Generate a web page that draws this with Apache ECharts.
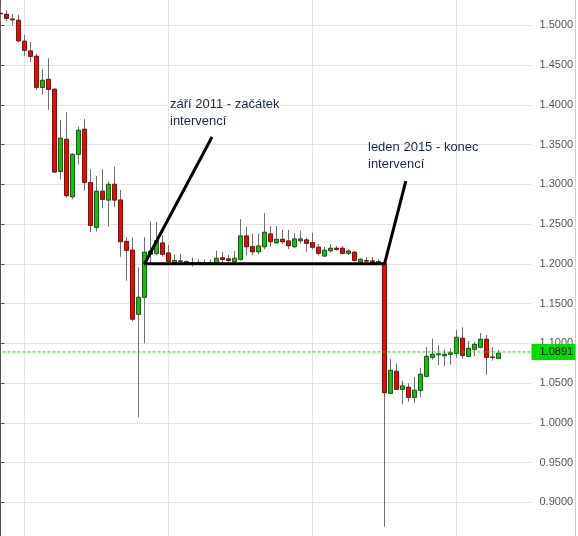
<!DOCTYPE html>
<html><head><meta charset="utf-8">
<script src="https://cdn.jsdelivr.net/npm/echarts@6/dist/echarts.min.js"></script>
<style>html,body{margin:0;padding:0;background:#fff}#c{width:578px;height:536px}</style>
</head><body><div id="c"></div>
<script>
const months = ['2009-09','2009-10','2009-11','2009-12',
'2010-01','2010-02','2010-03','2010-04','2010-05','2010-06','2010-07','2010-08','2010-09','2010-10','2010-11','2010-12',
'2011-01','2011-02','2011-03','2011-04','2011-05','2011-06','2011-07','2011-08','2011-09','2011-10','2011-11','2011-12',
'2012-01','2012-02','2012-03','2012-04','2012-05','2012-06','2012-07','2012-08','2012-09','2012-10','2012-11','2012-12',
'2013-01','2013-02','2013-03','2013-04','2013-05','2013-06','2013-07','2013-08','2013-09','2013-10','2013-11','2013-12',
'2014-01','2014-02','2014-03','2014-04','2014-05','2014-06','2014-07','2014-08','2014-09','2014-10','2014-11','2014-12',
'2015-01','2015-02','2015-03','2015-04','2015-05','2015-06','2015-07','2015-08','2015-09','2015-10','2015-11','2015-12',
'2016-01','2016-02','2016-03','2016-04','2016-05','2016-06','2016-07','2016-08','2016-09','2016-10','2016-11','2016-12',
'2017-01'];

const open = [1.5151,1.5138,1.5078,1.5063,1.4799,1.4677,1.4610,1.4220,1.4320,1.4195,
1.3163,1.3566,1.2844,1.3377,1.3692,1.3020,1.2459,1.2912,1.2802,1.3000,
1.2802,1.2281,1.2172,1.1365,1.1579,1.2121,1.2132,1.2262,1.2136,1.2017,
1.2035,1.2026,1.2012,1.2015,1.2012,1.2010,1.2013,1.2075,1.2062,1.2026,
1.2057,1.2350,1.2215,1.2152,1.2215,1.2375,1.2265,1.2308,1.2287,1.2215,
1.2291,1.2300,1.2266,1.2208,1.2098,1.2165,1.2195,1.2195,1.2132,1.2145,
1.2023,1.2040,1.2036,1.2006,1.2010,1.0371,1.0648,1.0421,1.0447,1.0321,
1.0409,1.0585,1.0824,1.0857,1.0844,1.0862,1.0874,1.1063,1.0836,1.0925,
1.0950,1.1050,1.0826,1.0811];
const close = [1.5145,1.5088,1.5070,1.4806,1.4686,1.4610,1.4220,1.4308,1.4195,1.3155,
1.3579,1.2857,1.3377,1.3679,1.3025,1.2484,1.2912,1.2811,1.3000,1.2802,
1.2278,1.2170,1.1304,1.1579,1.2145,1.2159,1.2290,1.2120,1.2029,1.2042,
1.2030,1.2013,1.2006,1.2010,1.2009,1.2012,1.2069,1.2054,1.2042,1.2069,
1.2350,1.2215,1.2152,1.2224,1.2396,1.2278,1.2308,1.2278,1.2228,1.2312,
1.2312,1.2258,1.2208,1.2132,1.2170,1.2195,1.2182,1.2132,1.2161,1.2044,
1.2057,1.2035,1.2015,1.2027,1.0379,1.0660,1.0421,1.0463,1.0321,1.0409,
1.0610,1.0836,1.0862,1.0866,1.0862,1.0879,1.1075,1.0849,1.0937,1.0987,
1.1050,1.0824,1.0822,1.0874];
const low = [1.5054,1.5058,1.5000,1.4786,1.4618,1.4542,1.4190,1.4127,1.3938,1.3146,
1.3063,1.2836,1.2811,1.3247,1.2920,1.2396,1.2404,1.2698,1.2467,1.2711,
1.2089,1.1787,1.1279,1.0072,1.0999,1.2000,1.2105,1.2090,1.1997,1.1995,
1.1990,1.1995,1.1966,1.1995,1.1998,1.1998,1.1995,1.2008,1.2019,1.2015,
1.2040,1.2107,1.2110,1.2120,1.2182,1.2215,1.2249,1.2249,1.2186,1.2203,
1.2258,1.2152,1.2182,1.2103,1.2086,1.2140,1.2165,1.2119,1.2111,1.2031,
1.2010,1.2010,1.2006,1.1995,0.8693,1.0362,1.0413,1.0233,1.0265,1.0253,
1.0321,1.0572,1.0794,1.0727,1.0714,1.0731,1.0818,1.0806,1.0824,1.0840,
1.0937,1.0605,1.0781,1.0799];
const high = [1.5230,1.5189,1.5142,1.5130,1.4878,1.4790,1.4639,1.4450,1.4585,1.4208,
1.3809,1.3906,1.3390,1.3725,1.3821,1.3192,1.3104,1.3192,1.3033,1.3221,
1.2928,1.2335,1.2335,1.1956,1.2334,1.2533,1.2526,1.2358,1.2236,1.2118,
1.2127,1.2045,1.2078,1.2055,1.2055,1.2055,1.2166,1.2149,1.2111,1.2161,
1.2562,1.2467,1.2379,1.2379,1.2639,1.2475,1.2475,1.2425,1.2425,1.2384,
1.2416,1.2330,1.2392,1.2249,1.2215,1.2249,1.2224,1.2224,1.2182,1.2161,
1.2073,1.2086,1.2086,1.2057,1.2025,1.0803,1.0748,1.0526,1.0497,1.0576,
1.0689,1.0953,1.1058,1.0975,1.0925,1.0937,1.1167,1.1201,1.1029,1.1020,
1.1130,1.1104,1.0953,1.0916];

const currentPrice = 1.0891;
const gridMonths = ['2010-01','2012-01','2014-01','2016-01'];
// annotation polyline in data units: [month index, price]
const annotationPath = [[35.25,1.3595],[24,1.2],[64,1.2],[67.55,1.304]];
// price line spans the whole month range (index units of the hidden value axis)
const priceLine = [[-0.5,currentPrice],[88.5,currentPrice]];
const notes = [
  {text:'září 2011 - začátek\nintervencí', left:170, top:96},
  {text:'leden 2015 - konec\nintervencí', left:368, top:139}
];

const ohlc = open.map((o,i)=>[o, close[i], low[i], high[i]]);
const bodies = open.map((o,i)=>[o, close[i], Math.min(o,close[i]), Math.max(o,close[i])]);

const chart = echarts.init(document.getElementById('c'), null, {renderer:'canvas'});
chart.setOption({
  animation:false,
  backgroundColor:'#fff',
  grid:{left:-2.5, width:534, top:-14.45, height:556.5, containLabel:false, outerBoundsMode:'none'},
  xAxis:[
    {type:'category', data:months, boundaryGap:true, show:false},
    {type:'value', min:-0.5, max:88.5, show:false}
  ],
  yAxis:[
    {type:'value', position:'right', min:0.85, max:1.55, interval:0.05,
     axisLine:{show:true, lineStyle:{color:'#555', width:1}},
     axisTick:{show:true, length:4, lineStyle:{color:'#555'}},
     axisLabel:{color:'#555', fontSize:11, fontFamily:'Liberation Sans, Arial', margin:8,
       showMinLabel:false, showMaxLabel:false, formatter:v=>v.toFixed(4)},
     splitLine:{show:true, lineStyle:{color:'#e3e3e3', width:1}}
    },
    {type:'value', position:'right', offset:44, min:0.85, max:1.55,
     axisLine:{show:true, lineStyle:{color:'#cccccc'}},
     axisTick:{show:false}, axisLabel:{show:false}, splitLine:{show:false}}
  ],
  graphic: notes.map(n=>({type:'text', left:n.left, top:n.top, z:10,
     style:{text:n.text, fill:'#1a2a48', fontSize:13, fontFamily:'Liberation Sans, Arial', lineHeight:17}})),
  series:[
    {type:'candlestick', name:'wicks', data:ohlc, barWidth:4, silent:true, clip:false,
     itemStyle:{color:'transparent', color0:'transparent', borderColor:'#707070', borderColor0:'#707070', borderWidth:1},
     markLine:{silent:true, symbol:'none', z:1, animation:false,
       label:{show:false},
       lineStyle:{color:'#e3e3e3', width:1, type:'solid'},
       data: gridMonths.map(m=>({xAxis:m}))}
    },
    {type:'candlestick', name:'EUR/CHF', data:bodies, barWidth:4, silent:true, clip:false,
     itemStyle:{color:'#00cc00', color0:'#ff0000', borderColor:'#1e5a1e', borderColor0:'#7a1414', borderWidth:1}
    },
    {type:'line', name:'price', xAxisIndex:1, yAxisIndex:0, data:priceLine, z:4,
     symbol:'none', silent:true, clip:false, color:'#00e000',
     lineStyle:{color:'#00e000', width:1, type:[3,2]},
     endLabel:{show:true, distance:0, formatter:()=>currentPrice.toFixed(4),
       backgroundColor:'#00dd00', color:'#000', fontSize:11, fontFamily:'Liberation Sans, Arial',
       padding:[2,3,2,8], lineHeight:12, width:33, align:'left', verticalAlign:'middle'}
    },
    {type:'line', name:'annotation', xAxisIndex:1, yAxisIndex:0, data:annotationPath, z:3,
     symbol:'none', silent:true, clip:false,
     lineStyle:{color:'#000', width:3}}
  ]
});
</script></body></html>
